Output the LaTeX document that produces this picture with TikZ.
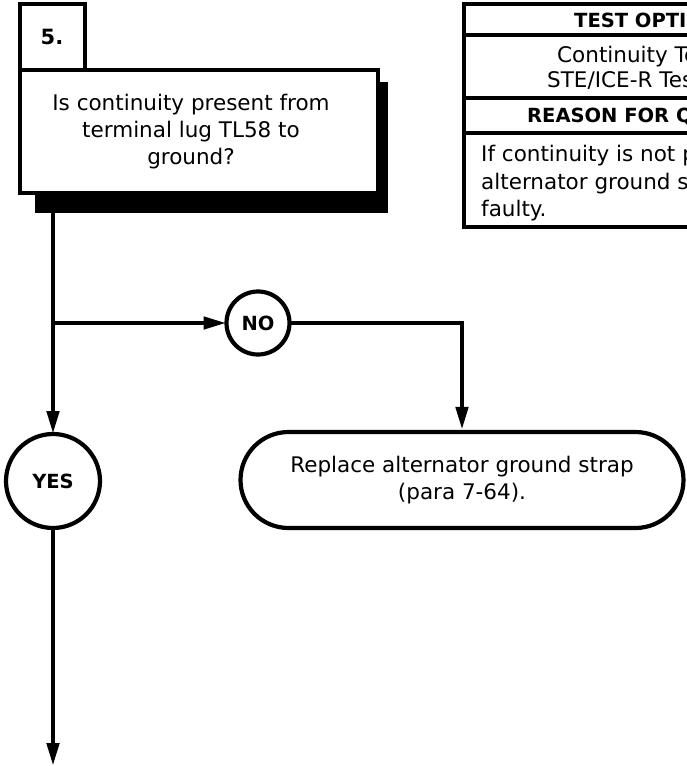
\documentclass[tikz,border=0pt]{standalone}
\usepackage{fontspec}
\setmainfont{DejaVu Sans}
\usetikzlibrary{arrows.meta,shapes.misc}
\begin{document}
\begin{tikzpicture}[x=1pt,y=-1pt,
  arr/.style={line width=4.5pt,-{Triangle[length=23pt,width=12pt]}},
  boxline/.style={draw,line width=3.8pt},
  rect/.style={draw,line width=3.8pt,fill=white,inner sep=0pt,outer sep=0pt,anchor=north west},
  txt/.style={font=\fontsize{21.5}{27}\selectfont,inner sep=0pt},
  btxt/.style={font=\fontsize{19.5}{24}\selectfont\bfseries,inner sep=0pt},
  circ/.style={circle,draw,line width=4.2pt,fill=white,inner sep=0pt,outer sep=0pt,font=\fontsize{19.5}{24}\selectfont\bfseries},
]
\useasboundingbox (0,0) rectangle (687,766);
\clip (0,0) rectangle (687,766);

% question box with shadow
\fill (35,82) rectangle (388,213);
\node[rect,minimum width=358pt,minimum height=123pt] (q) at (20,70) {};
\node[rect,minimum width=65pt,minimum height=66pt] (num) at (20,4) {};
\node[btxt,font=\fontsize{21}{24}\selectfont\bfseries] (numt) at (52,37) {5.};
\node[txt,align=center] (qt) at (191,132) {Is continuity present from\\terminal lug TL58 to\\ground?};

% table
\node[rect,minimum width=408pt,minimum height=223pt] (tab) at (464,4) {};
\draw[boxline] (464,35) -- (872,35);
\draw[boxline] (464,98) -- (872,98);
\draw[boxline] (464,133) -- (872,133);
\node[btxt,anchor=base west] (t1) at (574,27) {TEST OPTIONS};
\node[txt,anchor=base west] (t2) at (557,62) {Continuity Test};
\node[txt,anchor=base west] (t3) at (547,87) {STE/ICE-R Test};
\node[btxt,anchor=base west] (t4) at (527,122) {REASON FOR QUESTION};
\node[txt,anchor=base west] (t5) at (481,161) {If continuity is not present,};
\node[txt,anchor=base west] (t6) at (481,189) {alternator ground strap is};
\node[txt,anchor=base west] (t7) at (481,216) {faulty.};

% decision circles
\node[circ,minimum size=63pt] (no) at (258,323) {NO};
\node[circ,minimum size=94pt] (yes) at (53,481) {YES};

% result box
\node[rounded rectangle,draw,line width=4.2pt,fill=white,minimum width=443pt,minimum height=96pt,inner sep=0pt,
      txt,align=center] (repl) at (462,480) {Replace alternator ground strap\\(para 7-64).};

% connectors
\coordinate (s) at (53,213);
\coordinate (j) at (53,323);
\coordinate (e) at (53,766);
\draw[arr] (s) -- (yes.north);
\draw[arr] (j) -- (no.west);
\draw[arr] (no.east) -| (repl.north);
\draw[arr] (yes.south) -- (e);
\end{tikzpicture}
\end{document}
